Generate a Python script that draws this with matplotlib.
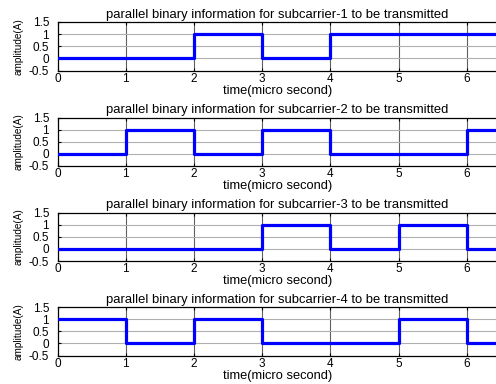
import matplotlib
matplotlib.use("Agg")
import matplotlib.pyplot as plt
import numpy as np

plt.rcParams['font.family'] = ['Liberation Sans', 'DejaVu Sans']

time_us = [0, 1, 2, 3, 4, 5, 6, 7]
subcarrier_1 = [0, 0, 1, 0, 1, 1, 1]
subcarrier_2 = [0, 1, 0, 1, 0, 0, 1]
subcarrier_3 = [0, 0, 0, 1, 0, 1, 0]
subcarrier_4 = [1, 0, 1, 0, 0, 1, 0]
series = [subcarrier_1, subcarrier_2, subcarrier_3, subcarrier_4]
titles = ["parallel binary information for subcarrier-%d to be transmitted" % i for i in range(1, 5)]
xticks = [0, 1, 2, 3, 4, 5, 6]
yticks = [-0.5, 0, 0.5, 1, 1.5]
ytick_labels = ["-0.5", "0", "0.5", "1", "1.5"]

W, H = 496, 384
fig = plt.figure(figsize=(W / 100, H / 100), dpi=100)

left_px = 57.5
unit_px = 68.2
right_px = 497
tops_px = [22, 117.5, 212.5, 307]
ax_h_px = 48.5
xmax = (right_px - left_px) / unit_px

for k, (bits, title) in enumerate(zip(series, titles)):
    top = tops_px[k]
    ax = fig.add_axes([left_px / W, (H - top - ax_h_px) / H, (right_px - left_px) / W, ax_h_px / H])
    ax.step(time_us, bits + [bits[-1]], where='post', color='#0000ff', lw=2.3, zorder=3)
    ax.set_xlim(0, xmax)
    ax.set_ylim(-0.5, 1.5)
    ax.set_xticks(xticks)
    ax.set_yticks(yticks)
    ax.set_yticklabels(ytick_labels)
    for x in xticks[1:]:
        ax.axvline(x, color='#606060', lw=0.8, zorder=1)
    for y in [0, 0.5, 1]:
        ax.axhline(y, color='#b0b0b0', lw=0.8, zorder=1)
    ax.tick_params(direction='in', length=2.5, width=0.8, labelsize=8.5, top=True)
    ax.tick_params(axis='x', pad=1.5)
    ax.tick_params(axis='y', pad=6)
    ax.spines['right'].set_visible(False)
    for s in ax.spines.values():
        s.set_linewidth(0.9)
    ax.set_title(title, fontsize=9.4, pad=3)
    ax.set_xlabel("time(micro second)", fontsize=9.3, labelpad=0)
    ax.set_ylabel("amplitude(A)", fontsize=7.2, labelpad=4)

fig.savefig("out.png", dpi=100)
